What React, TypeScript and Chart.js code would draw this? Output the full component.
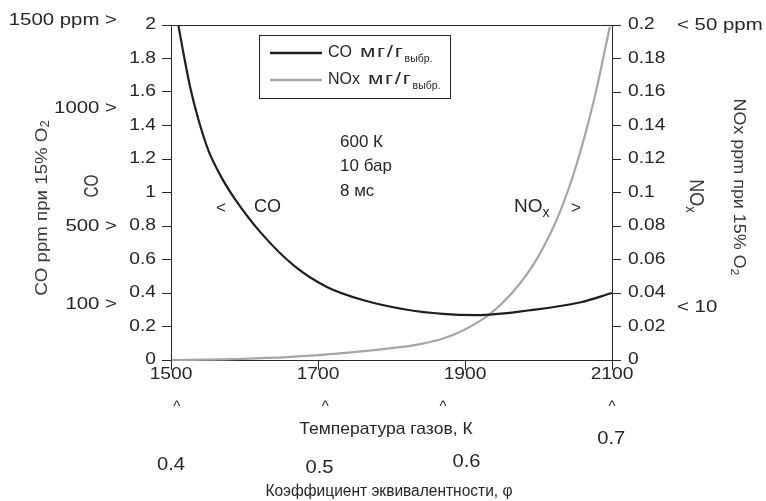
import React, { useEffect, useRef } from "react";
import { Chart, registerables } from "chart.js";

Chart.register(...registerables);

const FONT = '"Liberation Sans", Arial, Helvetica, sans-serif';
const INK = "#262626";
const CO_COLOR = "#1e1e1e";
const NOX_COLOR = "#a6a6a6";
const TICK_STRETCH = 1.2;

// CO, mg/g (left axis) vs gas temperature, K
const coTemperatures = [1510, 1517, 1526, 1537, 1551, 1570, 1588, 1623, 1669, 1712, 1761, 1821, 1870, 1916, 1988, 2056, 2100];
const coValues = [2.0, 1.83, 1.63, 1.44, 1.25, 1.08, 0.955, 0.756, 0.557, 0.436, 0.358, 0.3, 0.275, 0.268, 0.297, 0.343, 0.4];

// NOx, mg/g (right axis) vs gas temperature, K
const noxTemperatures = [1501, 1583, 1696, 1809, 1839, 1870, 1893, 1920, 1931, 1952, 1975, 1998, 2027, 2052, 2077, 2097];
const noxValues = [0, 0.0005, 0.0028, 0.0075, 0.0095, 0.0128, 0.0167, 0.0232, 0.0265, 0.0345, 0.0458, 0.0605, 0.086, 0.117, 0.158, 0.199];

// Secondary annotations
const coPpmLabels = ["1500 ppm >", "1000 >", "500 >", "100 >"];
const coPpmAt = [2.03, 1.5, 0.8, 0.33];
const noxPpmLabels = ["< 50 ppm", "< 10"];
const noxPpmAt = [0.2, 0.0316];
const phiCaretTemps = [1508, 1710, 1870, 2100];
const phiLabels = ["0.4", "0.5", "0.6", "0.7"];
const phiLabelTemps = [1500, 1702, 1902, 2099];
const phiLabelY = [465, 468, 462, 439];
const conditions = ["600 К", "10 бар", "8 мс"];

type Part = { t: string; size: number; sx?: number; dy?: number; ls?: number };
const P = (t: string, size: number, sx = 1, dy = 0, ls = 0): Part => ({ t, size, sx, dy, ls });

function drawParts(ctx: CanvasRenderingContext2D, parts: Part[], x: number, y: number, align: "left" | "center" | "right", sy = 1) {
  const c: any = ctx;
  const widths = parts.map((p) => {
    ctx.font = `${p.size}px ${FONT}`;
    c.letterSpacing = `${p.ls ?? 0}px`;
    return ctx.measureText(p.t).width * (p.sx ?? 1);
  });
  const total = widths.reduce((a, b) => a + b, 0);
  let cx = align === "center" ? x - total / 2 : align === "right" ? x - total : x;
  ctx.textAlign = "left";
  ctx.textBaseline = "middle";
  parts.forEach((p, i) => {
    ctx.font = `${p.size}px ${FONT}`;
    c.letterSpacing = `${p.ls ?? 0}px`;
    ctx.save();
    ctx.translate(cx, y + (p.dy ?? 0));
    ctx.scale(p.sx ?? 1, sy);
    ctx.fillText(p.t, 0, 0);
    ctx.restore();
    cx += widths[i];
  });
  c.letterSpacing = "0px";
}

const stretchTicks = {
  id: "stretchTicks",
  beforeDraw(chart: any) {
    const ctx = chart.ctx;
    const orig = CanvasRenderingContext2D.prototype.fillText;
    ctx.fillText = function (text: string, x: number, y: number) {
      this.save();
      this.translate(x, y);
      this.scale(TICK_STRETCH, 1);
      orig.call(this, text, 0, 0);
      this.restore();
    };
  },
  beforeDatasetsDraw(chart: any) {
    delete chart.ctx.fillText;
  },
};

const annotations = {
  id: "annotations",
  afterDraw(chart: any) {
    const ctx: CanvasRenderingContext2D = chart.ctx;
    delete (ctx as any).fillText;
    const { left, right, top } = chart.chartArea;
    const xs = chart.scales.x;
    const ys = chart.scales.y;
    const ys2 = chart.scales.y2;
    ctx.save();
    ctx.strokeStyle = INK;
    ctx.lineWidth = 1;
    ctx.beginPath();
    ctx.moveTo(left, Math.round(top) + 0.5);
    ctx.lineTo(right, Math.round(top) + 0.5);
    ctx.stroke();

    ctx.fillStyle = INK;
    coPpmLabels.forEach((s, i) => drawParts(ctx, [P(s, 17, 1.2)], 117, ys.getPixelForValue(coPpmAt[i]), "right"));
    noxPpmLabels.forEach((s, i) => drawParts(ctx, [P(s, 17, 1.2)], 677, ys2.getPixelForValue(noxPpmAt[i]), "left"));

    ctx.fillStyle = "#3a3a3a";
    ctx.save();
    ctx.translate(42, 208);
    ctx.rotate(-Math.PI / 2);
    drawParts(ctx, [P("CO ppm при 15% O", 17, 1.1), P("2", 12, 1.1, 4)], 0, 0, "center");
    ctx.restore();

    ctx.save();
    ctx.translate(92, 186);
    ctx.rotate(-Math.PI / 2);
    drawParts(ctx, [P("CO", 17, 0.9)], 0, 0, "center", 1.2);
    ctx.restore();

    ctx.save();
    ctx.translate(738, 187);
    ctx.rotate(Math.PI / 2);
    drawParts(ctx, [P("NOx ppm при 15% O", 16, 1.12), P("2", 11, 1.12, 4)], 0, 0, "center");
    ctx.restore();

    ctx.save();
    ctx.translate(695, 196);
    ctx.rotate(Math.PI / 2);
    drawParts(ctx, [P("NO", 18), P("x", 13, 1, 5)], 0, 0, "center", 1.1);
    ctx.restore();

    ctx.fillStyle = INK;
    drawParts(ctx, [P("<", 17)], 221, 208, "center");
    drawParts(ctx, [P("CO", 18)], 254, 207, "left");
    drawParts(ctx, [P("NO", 19), P("x", 14, 1, 6)], 514, 207, "left");
    drawParts(ctx, [P(">", 17)], 576, 208, "center");

    conditions.forEach((s, i) => drawParts(ctx, [P(s, 17)], 340, 142 + i * 24.5, "left"));

    // legend
    ctx.strokeStyle = INK;
    ctx.lineWidth = 1;
    ctx.strokeRect(259.5, 35.5, 191, 63);
    const legendNames = ["CO", "NOx"];
    chart.data.datasets.forEach((ds: any, i: number) => {
      const yy = 53 + i * 27;
      ctx.strokeStyle = ds.borderColor;
      ctx.lineWidth = 2.5;
      ctx.beginPath();
      ctx.moveTo(270, yy);
      ctx.lineTo(322, yy);
      ctx.stroke();
      ctx.fillStyle = INK;
      drawParts(ctx, [P(legendNames[i], 16), P(" мг/г", 16, 1.4, 0, 1.2), P("выбр.", 10, 1.05, 6)], 328, yy, "left");
    });

    ctx.fillStyle = INK;
    phiCaretTemps.forEach((t) => drawParts(ctx, [P("^", 15)], xs.getPixelForValue(t), 407, "center"));
    drawParts(ctx, [P("Температура газов, К", 17, 1.03)], 386, 429, "center");
    phiLabels.forEach((s, i) => drawParts(ctx, [P(s, 18, 1.12)], xs.getPixelForValue(phiLabelTemps[i]), phiLabelY[i], "center"));
    drawParts(ctx, [P("Коэффициент эквивалентности, φ", 16, 0.97)], 389, 492, "center");
    ctx.restore();
  },
};

const fmt = (v: number | string) => String(+Number(v).toFixed(2));

export default function App() {
  const ref = useRef<HTMLCanvasElement | null>(null);
  useEffect(() => {
    if (!ref.current) return;
    Chart.defaults.font.family = FONT;
    const chart = new Chart(ref.current, {
      type: "line",
      data: {
        datasets: [
          {
            label: "CO мг/г выбр.",
            data: coTemperatures.map((t, i) => ({ x: t, y: coValues[i] })),
            borderColor: CO_COLOR,
            borderWidth: 2.2,
            pointRadius: 0,
            cubicInterpolationMode: "monotone",
            yAxisID: "y",
            clip: false,
          },
          {
            label: "NOx мг/г выбр.",
            data: noxTemperatures.map((t, i) => ({ x: t, y: noxValues[i] })),
            borderColor: NOX_COLOR,
            borderWidth: 2.2,
            pointRadius: 0,
            cubicInterpolationMode: "monotone",
            yAxisID: "y2",
            clip: false,
          },
        ],
      },
      options: {
        responsive: false,
        animation: false,
        layout: { padding: { top: 25, left: 0, right: 0, bottom: 0 } },
        plugins: { legend: { display: false }, tooltip: { enabled: false } },
        scales: {
          x: {
            type: "linear",
            position: "bottom",
            min: 1500,
            max: 2100,
            ticks: { stepSize: 200, color: INK, font: { size: 16 }, padding: -5, maxRotation: 0, callback: (v: any) => String(v) },
            grid: { drawOnChartArea: false, tickLength: 10, color: INK },
            border: { color: INK },
            afterFit: (s: any) => { s.height = 141; },
          },
          y: {
            position: "left",
            min: 0,
            max: 2,
            ticks: { stepSize: 0.2, color: INK, font: { size: 16 }, padding: 6, callback: fmt },
            grid: { drawOnChartArea: false, tickLength: 9, color: INK },
            border: { color: INK },
            afterFit: (s: any) => { s.width = 171; },
          },
          y2: {
            position: "right",
            min: 0,
            max: 0.2,
            ticks: { stepSize: 0.02, color: INK, font: { size: 16 }, padding: 7, callback: fmt },
            grid: { drawOnChartArea: false, tickLength: 9, color: INK },
            border: { color: INK },
            afterFit: (s: any) => { s.width = 154; },
          },
        },
      },
      plugins: [stretchTicks, annotations],
    } as any);
    return () => chart.destroy();
  }, []);
  return (
    <div style={{ position: "absolute", left: 0, top: 0, width: 766, height: 501, background: "#fff" }}>
      <canvas ref={ref} width={766} height={501} style={{ display: "block", width: 766, height: 501 }} />
    </div>
  );
}
